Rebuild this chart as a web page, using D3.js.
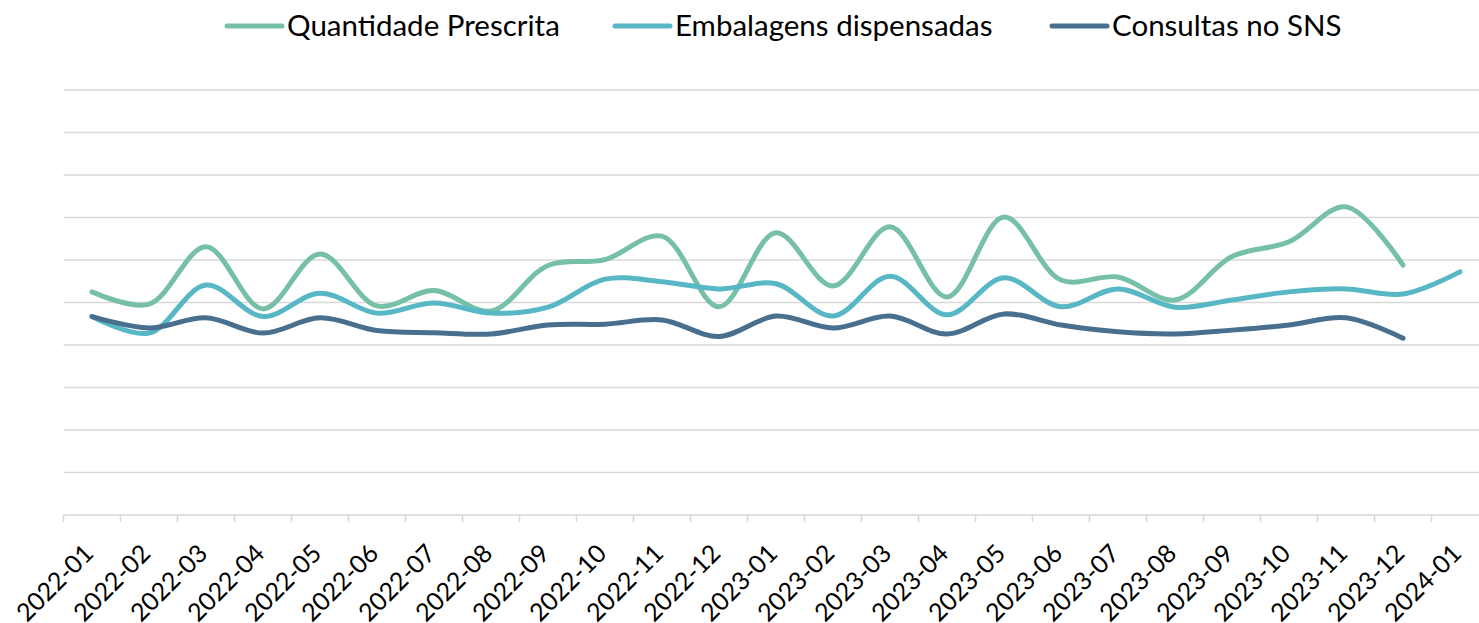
<!DOCTYPE html>
<html>
<head>
<meta charset="utf-8">
<script src="https://cdn.jsdelivr.net/npm/d3@7"></script>
<style>
  body { margin: 0; background: #fff; }
  text { font-family: Lato, "Noto Sans", sans-serif; fill: #000; }
</style>
</head>
<body>
<svg width="1479" height="623"></svg>
<script>
// months on the category axis
let months = ["2022-01", "2022-02", "2022-03", "2022-04", "2022-05", "2022-06", "2022-07", "2022-08",
  "2022-09", "2022-10", "2022-11", "2022-12", "2023-01", "2023-02", "2023-03", "2023-04",
  "2023-05", "2023-06", "2023-07", "2023-08", "2023-09", "2023-10", "2023-11", "2023-12", "2024-01"];

// values (no y labels in the original, so grid units)
let quantidadePrescrita = [5.25, 4.96, 6.31, 4.85, 6.14, 4.92, 5.28, 4.80, 5.87, 6.01, 6.56, 4.90,
  6.64, 5.39, 6.78, 5.13, 7.01, 5.53, 5.60, 5.06, 6.08, 6.43, 7.25, 5.88];
let embalagensDispensadas = [4.67, 4.28, 5.41, 4.67, 5.22, 4.75, 4.99, 4.75, 4.89, 5.55, 5.49, 5.32,
  5.44, 4.68, 5.62, 4.71, 5.58, 4.90, 5.32, 4.89, 5.06, 5.25, 5.32, 5.20, 5.72];
let consultasSNS = [4.67, 4.40, 4.64, 4.28, 4.64, 4.34, 4.29, 4.26, 4.47, 4.49, 4.59, 4.20,
  4.68, 4.40, 4.68, 4.26, 4.73, 4.47, 4.31, 4.26, 4.35, 4.47, 4.64, 4.16];

let seriesNames = ["Quantidade Prescrita", "Embalagens dispensadas", "Consultas no SNS"];
let seriesColors = ["#76c0a8", "#58b7c4", "#496f8f"];
let yTicks = d3.range(0, 11);

let svg = d3.select("svg");
let left = 63.5, bandW = 57, plotTop = 90, plotBottom = 515;

let x = d3.scaleBand()
    .domain(months)
    .range([left, left + bandW * months.length]);

let y = d3.scaleLinear()
    .domain([0, 10])
    .range([plotBottom, plotTop]);

// horizontal gridlines
svg.append("g")
    .selectAll("line")
    .data(yTicks)
    .enter()
    .append("line")
    .attr("x1", left)
    .attr("x2", 1479)
    .attr("y1", d => y(d))
    .attr("y2", d => y(d))
    .attr("stroke", "#d9d9d9")
    .attr("stroke-width", 1.6);

// tick marks sit on the category boundaries
svg.append("g")
    .selectAll("line")
    .data(months)
    .enter()
    .append("line")
    .attr("x1", d => x(d))
    .attr("x2", d => x(d))
    .attr("y1", plotBottom)
    .attr("y2", plotBottom + 7)
    .attr("stroke", "#d9d9d9")
    .attr("stroke-width", 1.6);

// rotated month labels
svg.append("g")
    .selectAll("text")
    .data(months)
    .enter()
    .append("text")
    .attr("transform", d => "translate(" + (x(d) + x.bandwidth() / 2 + 3) + "," + 555 + ") rotate(-45)")
    .attr("text-anchor", "end")
    .style("font-size", "25px")
    .text(d => d);

// the three smoothed lines
let line = d3.line()
    .x((d, i) => x(months[i]) + x.bandwidth() / 2)
    .y(d => y(d))
    .curve(d3.curveCatmullRom.alpha(0.5));

let allSeries = [quantidadePrescrita, embalagensDispensadas, consultasSNS];

svg.append("g")
    .selectAll("path")
    .data(allSeries)
    .enter()
    .append("path")
    .attr("d", line)
    .attr("fill", "none")
    .attr("stroke", (d, i) => seriesColors[i])
    .attr("stroke-width", 5)
    .attr("stroke-linecap", "round")
    .attr("stroke-linejoin", "round");

// legend
let legendX = [227, 615, 1052];
let legend = svg.append("g")
    .selectAll("g")
    .data(seriesNames)
    .enter()
    .append("g")
    .attr("transform", (d, i) => "translate(" + legendX[i] + ",26)");

legend.append("line")
    .attr("x1", 0)
    .attr("x2", 55)
    .attr("stroke", (d, i) => seriesColors[i])
    .attr("stroke-width", 5)
    .attr("stroke-linecap", "round");

legend.append("text")
    .attr("x", 60)
    .attr("y", 10)
    .style("font-size", "29.5px")
    .text(d => d);
</script>
</body>
</html>
